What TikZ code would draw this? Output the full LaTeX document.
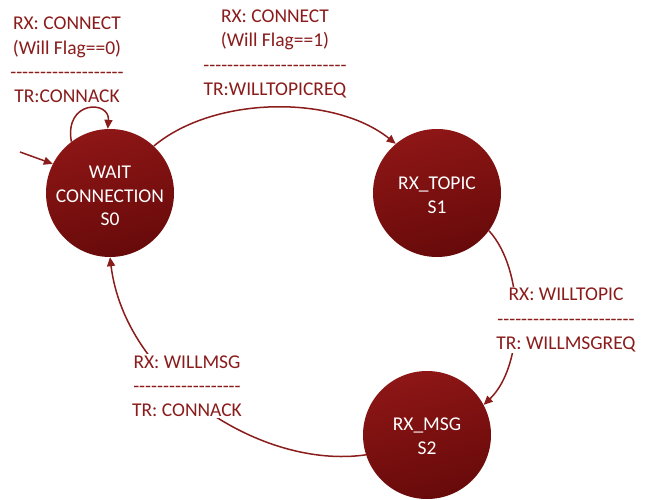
\documentclass[tikz,border=0pt]{standalone}
\usepackage{fontspec}
\setmainfont{Carlito}[Ligatures=TeXOff]
\usetikzlibrary{arrows.meta}
\definecolor{maroon}{RGB}{138,28,28}
\definecolor{statetop}{RGB}{142,22,22}
\definecolor{statebot}{RGB}{104,10,10}
\begin{document}
\begin{tikzpicture}[x=1pt,y=1pt,
  state/.style={circle, minimum size=128pt, inner sep=0pt,
    top color=statetop, bottom color=statebot, shading angle=15},
  statetext/.style={text=white, align=center, inner sep=0pt,
    font=\fontsize{19.5}{23.8}\selectfont},
  lbl/.style={text=maroon, align=center, fill=white, inner sep=1pt,
    font=\fontsize{19.5}{24.2}\selectfont},
  edge/.style={draw=maroon, line width=1.5pt, -{Triangle[length=9pt,width=8pt]}}]
\useasboundingbox (0,0) rectangle (651,-500);

% states
\node[state] (s0) at (110,-193) {};
\node[state] (s1) at (437,-193) {};
\node[state] (s2) at (427,-435) {};
\node[statetext] (s0t) at ([yshift=-3pt]s0.center) {WAIT\\CONNECTION\\S0};
\node[statetext] (s1t) at ([yshift=-2pt]s1.center) {RX\_TOPIC\\S1};
\node[statetext] (s2t) at ([yshift=-1pt]s2.center) {RX\_MSG\\S2};

% transitions
\coordinate (init) at (20,-152);
\draw[edge] (init) -- (s0.153);
\draw[edge] (s0.127) .. controls (64,-100) and (110,-100) .. (s0.92);
\draw[edge] (s0.47) .. controls (215,-95) and (335,-95) .. (s1.130);
\draw[edge] (s1.-36) .. controls (525,-270) and (525,-365) .. (s2.28);
\draw[edge] (s2.198) .. controls (260,-470) and (125,-380) .. (s0.-90);

% transition labels
\node[lbl] (l00) at (67,-60) {RX: CONNECT\\(Will Flag==0)\\-------------------\\TR:CONNACK};
\node[lbl] (l01) at (275,-54) {RX: CONNECT\\(Will Flag==1)\\------------------------\\TR:WILLTOPICREQ};
\node[lbl] (l12) at (566,-320) {RX: WILLTOPIC\\-----------------------\\TR: WILLMSGREQ};
\node[lbl] (l20) at (187,-386) {RX: WILLMSG\\------------------\\TR: CONNACK};
\end{tikzpicture}
\end{document}
